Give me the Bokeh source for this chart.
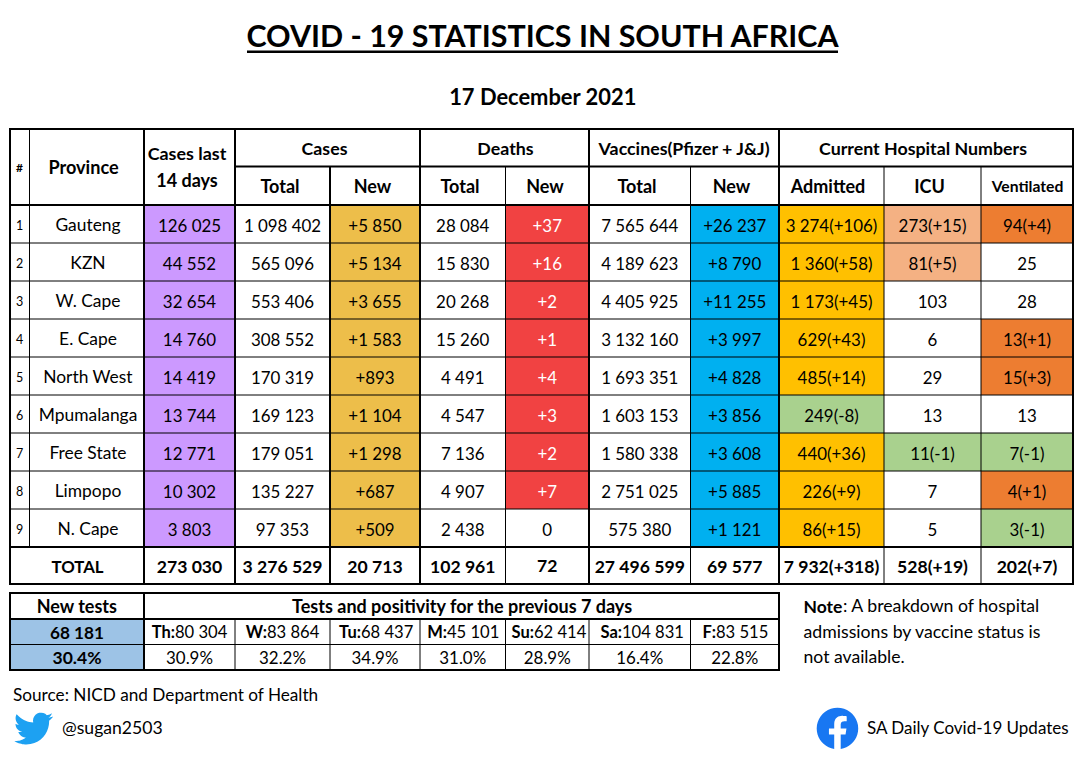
import math, re
from bokeh.plotting import figure
from bokeh.models import Range1d
from bokeh.core.properties import value
from bokeh.embed import file_html
from bokeh.resources import INLINE

# ---------- data ----------
TITLE = "COVID - 19 STATISTICS IN SOUTH AFRICA"
DATE = "17 December 2021"
provinces = ["Gauteng", "KZN", "W. Cape", "E. Cape", "North West", "Mpumalanga", "Free State", "Limpopo", "N. Cape"]
cases_14 = ["126 025", "44 552", "32 654", "14 760", "14 419", "13 744", "12 771", "10 302", "3 803"]
cases_total = ["1 098 402", "565 096", "553 406", "308 552", "170 319", "169 123", "179 051", "135 227", "97 353"]
cases_new = ["+5 850", "+5 134", "+3 655", "+1 583", "+893", "+1 104", "+1 298", "+687", "+509"]
deaths_total = ["28 084", "15 830", "20 268", "15 260", "4 491", "4 547", "7 136", "4 907", "2 438"]
deaths_new = ["+37", "+16", "+2", "+1", "+4", "+3", "+2", "+7", "0"]
vacc_total = ["7 565 644", "4 189 623", "4 405 925", "3 132 160", "1 693 351", "1 603 153", "1 580 338", "2 751 025", "575 380"]
vacc_new = ["+26 237", "+8 790", "+11 255", "+3 997", "+4 828", "+3 856", "+3 608", "+5 885", "+1 121"]
admitted = ["3 274(+106)", "1 360(+58)", "1 173(+45)", "629(+43)", "485(+14)", "249(-8)", "440(+36)", "226(+9)", "86(+15)"]
icu = ["273(+15)", "81(+5)", "103", "6", "29", "13", "11(-1)", "7", "5"]
ventilated = ["94(+4)", "25", "28", "13(+1)", "15(+3)", "13", "7(-1)", "4(+1)", "3(-1)"]
totals = ["273 030", "3 276 529", "20 713", "102 961", "72", "27 496 599", "69 577", "7 932(+318)", "528(+19)", "202(+7)"]
test_days = ["Th:", "W:", "Tu:", "M:", "Su:", "Sa:", "F:"]
test_counts = ["80 304", "83 864", "68 437", "45 101", "62 414", "104 831", "83 515"]
test_pos = ["30.9%", "32.2%", "34.9%", "31.0%", "28.9%", "16.4%", "22.8%"]
new_tests = "68 181"
new_pos = "30.4%"

# ---------- layout (page pixels) ----------
XE = [10, 29.5, 144, 235, 330, 420, 505.5, 589, 690.5, 779, 884, 981, 1073]
YE = [205, 243, 281, 319, 357, 395, 433, 471, 509, 547]
Y_TOP, Y_H1, Y_H2, Y_BOT = 129, 166.5, 205, 584
T_Y = [593, 619, 644.5, 670]
REG, BIG, HEAD = 16.9, 18.0, 17.8
FONT = value("Lato")
BLACK = "#000000"
BASE_SHIFT = 0.38

# ---------- styles ----------
PURPLE, GOLD, RED, BLUE, AMBER, SALMON, ORANGE, GREEN, TBLUE = (
    "#CC99FF", "#EDBE4A", "#F14242", "#00B0F0", "#FFC000", "#F4B183", "#ED7D31", "#A9D18E", "#9DC3E6")
W = "#FFFFFF"
fills = {
    2: [PURPLE] * 9,
    4: [GOLD] * 9,
    6: [RED] * 8 + [W],
    8: [BLUE] * 9,
    9: [AMBER] * 5 + [GREEN] + [AMBER] * 3,
    10: [SALMON, SALMON, W, W, W, W, GREEN, W, W],
    11: [ORANGE, W, W, ORANGE, ORANGE, W, GREEN, ORANGE, GREEN],
}

p = figure(width=1083, height=759, x_range=Range1d(0.5, 1083.5), y_range=Range1d(759.5, 0.5),
           output_backend="svg", toolbar_location=None, min_border=0)
p.axis.visible = False
p.grid.visible = False
p.outline_line_color = None
p.background_fill_color = W


def text(x, y, s, size=REG, bold=False, align="center", color=BLACK):
    xs = x if isinstance(x, list) else [x]
    ys = y if isinstance(y, list) else [y] * len(xs)
    ss = s if isinstance(s, list) else [s]
    p.text(x=xs, y=[v - BASE_SHIFT * size for v in ys], text=ss, text_font=FONT, text_font_size=f"{size}px",
           text_font_style="bold" if bold else "normal", text_align=align,
           text_baseline="alphabetic", text_color=color)


def hline(xa, xb, y, w):
    p.segment(x0=[xa], x1=[xb], y0=[y], y1=[y], line_color=BLACK, line_width=w)


def vline(x, ya, yb, w):
    p.segment(x0=[x], x1=[x], y0=[ya], y1=[yb], line_color=BLACK, line_width=w)


def mid(i):
    return (XE[i] + XE[i + 1]) / 2


# filled cells
for col, colors in fills.items():
    p.quad(left=[XE[col]] * 9, right=[XE[col + 1]] * 9, top=YE[:-1], bottom=YE[1:],
           fill_color=colors, line_color=None)
p.quad(left=[XE[0]] * 2, right=[XE[2]] * 2, top=T_Y[1:3], bottom=T_Y[2:4], fill_color=TBLUE, line_color=None)

# main-table rules
for y in YE[1:-1]:
    hline(XE[0], XE[-1], y, 1)
hline(XE[3], XE[-1], Y_H1, 2)
hline(XE[0], XE[-1], Y_H2, 2)
hline(XE[0], XE[-1], YE[-1], 2)
hline(XE[0] - 1, XE[-1] + 1, Y_TOP, 2)
hline(XE[0] - 1, XE[-1] + 1, Y_BOT, 2)
vline(XE[1], Y_TOP, YE[-1], 1)
for i in (0, 2, 3, 5, 7, 9, 12):
    vline(XE[i], Y_TOP, Y_BOT, 2)
vline(XE[4], Y_H1, Y_BOT, 2)
for i in (6, 8, 10, 11):
    vline(XE[i], Y_H1, Y_BOT, 1)

# tests-table rules
TR = XE[9]
hline(XE[0] - 1, TR + 1, T_Y[0], 2)
hline(XE[0], TR, T_Y[1], 2)
hline(XE[0], TR, T_Y[2], 1)
hline(XE[0] - 1, TR + 1, T_Y[3], 2)
for x in (XE[0], XE[2], TR):
    vline(x, T_Y[0], T_Y[3], 2)
for i in range(3, 9):
    vline(XE[i], T_Y[1], T_Y[3], 1)

# title
text(543, 46.5, TITLE, size=30.4, bold=True)
p.segment(x0=[247], x1=[838], y0=[51.7], y1=[51.7], line_color=BLACK, line_width=2.5)
text(543, 104.5, DATE, size=21.9, bold=True)

# headers
text(19.5, 172, "#", size=12, bold=True)
text(83.5, 174, "Province", size=18.1, bold=True)
text(187, 160, "Cases last", size=17.9, bold=True)
text(187, 186.7, "14 days", size=18, bold=True)
for x, s in ((324.5, "Cases"), (505.5, "Deaths"), (684.5, "Vaccines(Pfizer + J&J)"), (923, "Current Hospital Numbers")):
    text(x, 154.7, s, size=HEAD, bold=True)
hdr_x = [280, 372.5, 460, 545, 637, 731.5, 828, 929.5]
for x, s in zip(hdr_x, ("Total", "New", "Total", "New", "Total", "New", "Admitted", "ICU")):
    text(x, 192.7, s, size=BIG, bold=True)
text(1027.5, 191.7, "Ventilated", size=15.7, bold=True)

# rows
baselines = [y + 26.5 for y in YE[:-1]]
text([19.5] * 9, [b - 1.5 for b in baselines], [str(i + 1) for i in range(9)], size=12.5)
text([88] * 9, baselines, provinces, size=17.4)
columns = {2: cases_14, 3: cases_total, 4: cases_new, 5: deaths_total, 7: vacc_total, 8: vacc_new,
           9: admitted, 10: icu, 11: ventilated}
for i, vals in columns.items():
    text([mid(i)] * 9, baselines, vals)
text([mid(6)] * 8, baselines[:8], deaths_new[:8], color=W)
text(mid(6), baselines[8], deaths_new[8])

# total row
text(77.5, 572.7, "TOTAL", size=16.8, bold=True)
text([mid(i) for i in range(2, 12)], 573, totals, size=17.6, bold=True)

# tests table
text(77, 612.7, "New tests", size=18, bold=True)
text(462.5, 612.7, "Tests and positivity for the previous 7 days", size=18, bold=True)
text(77, 638.7, new_tests, size=17.2, bold=True)
text(77, 664, new_pos, size=17.5, bold=True)
splits = [175, 267, 361, 447, 534, 622, 716]
for sx, d, c in zip(splits, test_days, test_counts):
    text(sx, 638.7, d, size=16.5, bold=True, align="right")
    text(sx, 638.7, c, size=16.6, align="left")
text([mid(i) for i in range(2, 9)], 664, test_pos, size=16.9)

# notes
text(803.5, 612.7, "Note", size=17.5, bold=True, align="left")
text(843, 612.7, ": A breakdown of hospital", size=17.7, align="left")
text(803.5, 638, "admissions by vaccine status is", size=17.7, align="left")
text(803.5, 663.5, "not available.", size=17.6, align="left")
text(13, 701, "Source: NICD and Department of Health", size=17.2, align="left")
text(62, 734, "@sugan2503", size=17.6, align="left")
text(867, 734, "SA Daily Covid-19 Updates", size=17, align="left")


# ---------- icons ----------
def arc_pts(x0, y0, r, large, sweep, x, y, n=10):
    xp, yp = (x0 - x) / 2, (y0 - y) / 2
    lam = (xp * xp + yp * yp) / (r * r)
    if lam > 1:
        r *= math.sqrt(lam)
    den = xp * xp + yp * yp
    num = max(r * r - den, 0)
    sign = 1 if large != sweep else -1
    k = sign * math.sqrt(num / den)
    cxp, cyp = k * yp, -k * xp
    cx, cy = cxp + (x0 + x) / 2, cyp + (y0 + y) / 2
    a0 = math.atan2(yp - cyp, xp - cxp)
    a1 = math.atan2(-yp - cyp, -xp - cxp)
    d = a1 - a0
    if sweep and d < 0:
        d += 2 * math.pi
    if not sweep and d > 0:
        d -= 2 * math.pi
    return [(cx + r * math.cos(a0 + d * t / n), cy + r * math.sin(a0 + d * t / n)) for t in range(1, n + 1)]


def flatten(path, n=10):
    toks = re.findall(r"[a-zA-Z]|-?\d*\.?\d+", path)
    i, x, y, pts = 0, 0.0, 0.0, []
    cmd = None
    while i < len(toks):
        if toks[i].isalpha():
            cmd = toks[i]
            i += 1
            if cmd in "zZ":
                continue
        up = cmd.upper()
        rel = cmd != up
        cnt = {"M": 2, "L": 2, "H": 1, "V": 1, "C": 6, "A": 7}[up]
        v = [float(t) for t in toks[i:i + cnt]]
        i += cnt
        if up in "ML":
            x, y = (x + v[0], y + v[1]) if rel else (v[0], v[1])
            pts.append((x, y))
        elif up == "H":
            x = x + v[0] if rel else v[0]
            pts.append((x, y))
        elif up == "V":
            y = y + v[0] if rel else v[0]
            pts.append((x, y))
        elif up == "C":
            ox, oy = (x, y) if rel else (0, 0)
            c = [v[j] + (ox if j % 2 == 0 else oy) for j in range(6)]
            for t in range(1, n + 1):
                u = t / n
                b = ((1 - u) ** 3, 3 * u * (1 - u) ** 2, 3 * u * u * (1 - u), u ** 3)
                pts.append((b[0] * x + b[1] * c[0] + b[2] * c[2] + b[3] * c[4],
                            b[0] * y + b[1] * c[1] + b[2] * c[3] + b[3] * c[5]))
            x, y = c[4], c[5]
        else:
            ex, ey = (x + v[5], y + v[6]) if rel else (v[5], v[6])
            pts.extend(arc_pts(x, y, v[0], int(v[3]), int(v[4]), ex, ey, n))
            x, y = ex, ey
    return pts


BIRD = ("M23.953 4.57 a10 10 0 0 1 -2.825 .775 a4.958 4.958 0 0 0 2.163 -2.723 c-.951 .555 -2.005 .959 -3.127 1.184 "
        "a4.92 4.92 0 0 0 -8.384 4.482 C7.69 8.095 4.067 6.13 1.64 3.162 a4.822 4.822 0 0 0 -.666 2.475 "
        "c0 1.71 .87 3.213 2.188 4.096 a4.904 4.904 0 0 1 -2.228 -.616 v.06 a4.923 4.923 0 0 0 3.946 4.827 "
        "a4.996 4.996 0 0 1 -2.212 .085 a4.936 4.936 0 0 0 4.604 3.417 a9.867 9.867 0 0 1 -6.102 2.105 "
        "c-.39 0 -.779 -.023 -1.17 -.067 a13.995 13.995 0 0 0 7.557 2.209 c9.053 0 13.998 -7.496 13.998 -13.985 "
        "c0 -.21 0 -.42 -.015 -.63 A9.935 9.935 0 0 0 24 4.59 z")
FB = ("M24 12.073 c0 -6.627 -5.373 -12 -12 -12 c-6.627 0 -12 5.373 -12 12 c0 5.99 4.388 10.954 10.125 11.854 "
      "v-8.385 H7.078 v-3.47 h3.047 V9.43 c0 -3.007 1.792 -4.669 4.533 -4.669 c1.312 0 2.686 .235 2.686 .235 "
      "v2.953 H15.83 c-1.491 0 -1.956 .925 -1.956 1.874 v2.25 h3.328 l-.532 3.47 h-2.796 v8.385 "
      "C19.612 23.027 24 18.062 24 12.073 z")


def icon(path, x0, y0, k, color):
    pts = flatten(path)
    p.patch(x=[x0 + k * a for a, _ in pts], y=[y0 + k * b for _, b in pts], fill_color=color, line_color=None)


icon(BIRD, 14, 709, 1.63, "#1DA1F2")
icon(FB, 816.7, 707.6, 1.73, "#1877F2")

open("out.html", "w").write(file_html(p, INLINE))
